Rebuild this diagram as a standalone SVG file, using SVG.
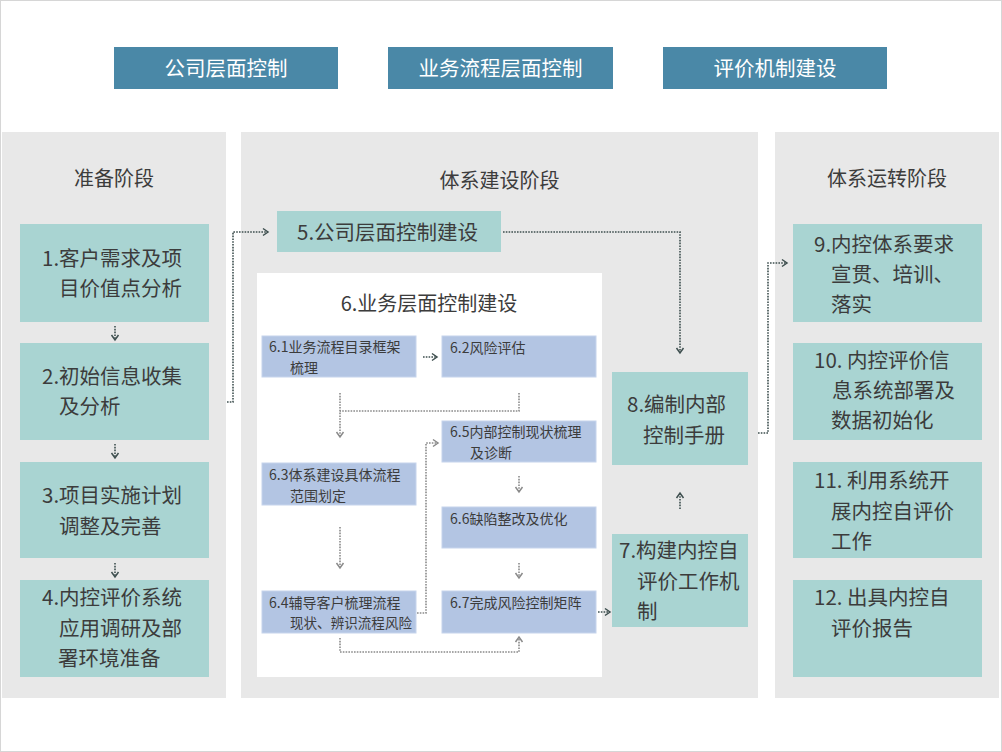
<svg xmlns="http://www.w3.org/2000/svg" width="1002" height="752" viewBox="0 0 1002 752">
<style>
text{font-family:"Noto Sans CJK SC","Liberation Sans",sans-serif;fill:#3c3c3c}
.hdr{fill:#4a88a7}
.hdrt{fill:#ffffff;font-size:20.5px;text-anchor:middle}
.panel{fill:#e8e8e8}
.teal{fill:#a9d4d2}
.blue{fill:#b3c5e3;stroke:#c6d4ec;stroke-width:1}
.pt{font-size:20px;text-anchor:middle}
.bt{font-size:20.5px}
.st{font-size:14px}
.dk{fill:none;stroke:#3e4f4f;stroke-width:1.6;stroke-dasharray:1.6 1.2}
.lt{fill:none;stroke:#8a8a8a;stroke-width:1.6;stroke-dasharray:1.6 1.2}
</style>
<defs>
<marker id="ad" viewBox="0 0 10 10" refX="8" refY="5" markerWidth="10" markerHeight="10" markerUnits="userSpaceOnUse" orient="auto">
<path d="M3,1.5 L8,5 L3,8.5" fill="none" stroke="#3e4f4f" stroke-width="1.5"/>
</marker>
<marker id="al" viewBox="0 0 10 10" refX="8" refY="5" markerWidth="10" markerHeight="10" markerUnits="userSpaceOnUse" orient="auto">
<path d="M3,1.5 L8,5 L3,8.5" fill="none" stroke="#8a8a8a" stroke-width="1.5"/>
</marker>
</defs>
<rect x="0.5" y="0.5" width="1001" height="751" fill="#ffffff" stroke="#d6d6d6" stroke-width="1"/>

<g id="headers">
<g id="h1"><rect class="hdr" x="114" y="47" width="224" height="42"/><text class="hdrt" x="226" y="76">公司层面控制</text></g>
<g id="h2"><rect class="hdr" x="388" y="47" width="225" height="42"/><text class="hdrt" x="500.5" y="76">业务流程层面控制</text></g>
<g id="h3"><rect class="hdr" x="663" y="47" width="224" height="42"/><text class="hdrt" x="775" y="76">评价机制建设</text></g>
</g>

<g id="panel-prep"><rect class="panel" x="2" y="132" width="224" height="566"/><text class="pt" x="114" y="186">准备阶段</text></g>
<g id="panel-build"><rect class="panel" x="241" y="132" width="517" height="566"/><text class="pt" x="499.5" y="188">体系建设阶段</text></g>
<g id="panel-run"><rect class="panel" x="775" y="132" width="224" height="566"/><text class="pt" x="887" y="186">体系运转阶段</text></g>

<g id="n1"><rect class="teal" x="20" y="224" width="189" height="98"/><text class="bt"><tspan x="42" y="266">1.客户需求及项</tspan><tspan x="59" y="296">目价值点分析</tspan></text></g>
<g id="n2"><rect class="teal" x="20" y="343" width="189" height="97"/><text class="bt"><tspan x="42" y="384">2.初始信息收集</tspan><tspan x="59" y="414">及分析</tspan></text></g>
<g id="n3"><rect class="teal" x="20" y="462" width="189" height="96"/><text class="bt"><tspan x="42" y="503">3.项目实施计划</tspan><tspan x="59" y="534">调整及完善</tspan></text></g>
<g id="n4"><rect class="teal" x="20" y="580" width="189" height="97"/><text class="bt"><tspan x="42" y="605">4.内控评价系统</tspan><tspan x="59" y="636">应用调研及部</tspan><tspan x="58" y="666">署环境准备</tspan></text></g>

<g id="n5"><rect class="teal" x="277" y="211" width="224" height="41"/><text class="bt" x="297" y="240">5.公司层面控制建设</text></g>

<g id="n6"><rect x="257" y="273" width="345" height="404" fill="#ffffff"/><text class="pt" x="429" y="311">6.业务层面控制建设</text></g>
<g id="n61"><rect class="blue" x="262" y="336" width="154" height="41"/><text class="st"><tspan x="269" y="352">6.1业务流程目录框架</tspan><tspan x="290" y="372.5">梳理</tspan></text></g>
<g id="n62"><rect class="blue" x="442" y="336" width="154" height="41"/><text class="st" x="450" y="353">6.2风险评估</text></g>
<g id="n65"><rect class="blue" x="442" y="421" width="154" height="41"/><text class="st"><tspan x="450" y="437">6.5内部控制现状梳理</tspan><tspan x="470" y="457.5">及诊断</tspan></text></g>
<g id="n63"><rect class="blue" x="262" y="463" width="154" height="42"/><text class="st"><tspan x="269" y="480">6.3体系建设具体流程</tspan><tspan x="290" y="500.5">范围划定</tspan></text></g>
<g id="n66"><rect class="blue" x="442" y="507" width="154" height="41"/><text class="st" x="450" y="524">6.6缺陷整改及优化</text></g>
<g id="n64"><rect class="blue" x="262" y="591" width="154" height="42"/><text class="st"><tspan x="269" y="607.5">6.4辅导客户梳理流程</tspan><tspan x="290" y="628" textLength="122" lengthAdjust="spacingAndGlyphs">现状、辨识流程风险</tspan></text></g>
<g id="n67"><rect class="blue" x="442" y="591" width="154" height="42"/><text class="st" x="450" y="608">6.7完成风险控制矩阵</text></g>

<g id="n8"><rect class="teal" x="612" y="372" width="136" height="93"/><text class="bt"><tspan x="627" y="412">8.编制内部</tspan><tspan x="643" y="443">控制手册</tspan></text></g>
<g id="n7"><rect class="teal" x="612" y="534" width="136" height="93"/><text class="bt"><tspan x="619" y="558">7.构建内控自</tspan><tspan x="637" y="589">评价工作机</tspan><tspan x="637" y="619">制</tspan></text></g>

<g id="n9"><rect class="teal" x="793" y="224" width="189" height="98"/><text class="bt"><tspan x="814" y="252">9.内控体系要求</tspan><tspan x="831" y="282">宣贯、培训、</tspan><tspan x="831" y="312">落实</tspan></text></g>
<g id="n10"><rect class="teal" x="793" y="343" width="189" height="97"/><text class="bt"><tspan x="814" y="368">10. 内控评价信</tspan><tspan x="832" y="398">息系统部署及</tspan><tspan x="831" y="428">数据初始化</tspan></text></g>
<g id="n11"><rect class="teal" x="793" y="462" width="189" height="96"/><text class="bt"><tspan x="814" y="488">11. 利用系统开</tspan><tspan x="831" y="519">展内控自评价</tspan><tspan x="831" y="549">工作</tspan></text></g>
<g id="n12"><rect class="teal" x="793" y="580" width="189" height="97"/><text class="bt"><tspan x="814" y="605">12. 出具内控自</tspan><tspan x="831" y="636">评价报告</tspan></text></g>

<g id="connectors">
<path class="dk" d="M115,326 V340" marker-end="url(#ad)"/>
<path class="dk" d="M115,444 V458" marker-end="url(#ad)"/>
<path class="dk" d="M115,563 V577" marker-end="url(#ad)"/>
<path class="dk" d="M227,402 H233 V232 H268" marker-end="url(#ad)"/>
<path class="dk" d="M503,232 H680 V353" marker-end="url(#ad)"/>
<path class="dk" d="M758,433 H768 V263 H787" marker-end="url(#ad)"/>
<path class="dk" d="M680,509 V493" marker-end="url(#ad)"/>
<path class="dk" d="M598,612 H610" marker-end="url(#ad)"/>
<path class="dk" d="M423,357 H437" marker-end="url(#ad)"/>
<path class="lt" d="M519,393 V411 H340"/>
<path class="lt" d="M340,393 V437" marker-end="url(#al)"/>
<path class="lt" d="M340,527 V568" marker-end="url(#al)"/>
<path class="lt" d="M417,613 H426 V443 H438" marker-end="url(#al)"/>
<path class="lt" d="M519,476 V492" marker-end="url(#al)"/>
<path class="lt" d="M519,563 V578" marker-end="url(#al)"/>
<path class="lt" d="M340,638 V652 H519 V637" marker-end="url(#al)"/>
</g>
</svg>
